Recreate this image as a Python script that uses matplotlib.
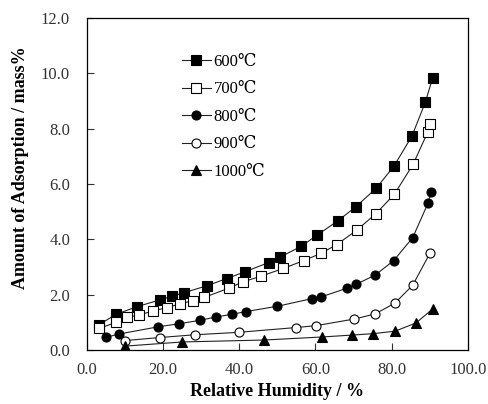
import matplotlib
matplotlib.use('Agg')
import matplotlib.pyplot as plt

# values
rh_600 = [3.1, 7.7, 13.3, 19.2, 22.3, 25.5, 31.5, 36.7, 41.4, 47.7, 50.6, 56.3, 60.5,
          65.9, 70.6, 75.9, 80.6, 85.3, 88.8, 90.7]
ads_600 = [0.90, 1.29, 1.57, 1.81, 1.94, 2.07, 2.32, 2.58, 2.82, 3.16, 3.35, 3.75, 4.16,
           4.67, 5.18, 5.84, 6.65, 7.73, 8.95, 9.82]

rh_700 = [3.3, 7.7, 10.5, 13.7, 17.3, 21.0, 24.5, 27.8, 30.8, 37.2, 41.1, 45.8, 51.6,
          56.9, 61.4, 65.6, 70.9, 75.8, 80.7, 85.6, 89.5, 90.1]
ads_700 = [0.78, 1.00, 1.18, 1.26, 1.41, 1.53, 1.67, 1.78, 1.90, 2.23, 2.47, 2.67, 2.95,
           3.23, 3.49, 3.81, 4.34, 4.92, 5.63, 6.71, 7.89, 8.17]

rh_800 = [5.1, 8.6, 18.8, 24.3, 29.6, 33.8, 38.1, 41.8, 50.0, 59.2, 61.5, 68.2, 70.6,
          75.7, 80.5, 85.5, 89.5, 90.3]
ads_800 = [0.46, 0.58, 0.84, 0.95, 1.07, 1.19, 1.29, 1.39, 1.58, 1.86, 1.92, 2.23, 2.37,
           2.71, 3.23, 4.06, 5.30, 5.70]

rh_900 = [10.1, 19.1, 28.4, 40.0, 54.8, 60.2, 70.2, 75.6, 80.8, 85.5, 90.0]
ads_900 = [0.34, 0.45, 0.55, 0.64, 0.81, 0.88, 1.12, 1.30, 1.69, 2.34, 3.49]

rh_1000 = [10.1, 25.1, 46.5, 61.7, 69.7, 75.1, 80.9, 86.4, 90.8]
ads_1000 = [0.14, 0.29, 0.36, 0.47, 0.54, 0.59, 0.68, 0.98, 1.49]

x_ticks = [0, 20, 40, 60, 80, 100]
y_ticks = [0, 2, 4, 6, 8, 10, 12]

serif = ['Liberation Serif', 'DejaVu Serif']
plt.rcParams['font.family'] = serif

fig = plt.figure(figsize=(4.89, 4.04), dpi=100)
ax = fig.add_axes([0.1773, 0.1337, 0.7797, 0.8217])

series = [
    (rh_600, ads_600, 's', 'black', '600℃'),
    (rh_700, ads_700, 's', 'white', '700℃'),
    (rh_800, ads_800, 'o', 'black', '800℃'),
    (rh_900, ads_900, 'o', 'white', '900℃'),
    (rh_1000, ads_1000, '^', 'black', '1000℃'),
]
for x, y, m, fc, lab in series:
    ax.plot(x, y, color='#222222', lw=0.8, marker=m, ms=6.5 if m != '^' else 7,
            mfc=fc, mec='black', mew=0.8, label=lab)

ax.set_xlim(0, 100)
ax.set_ylim(0, 12)
ax.set_xticks(x_ticks)
ax.set_yticks(y_ticks)
ax.set_xticklabels([f'{v:.1f}' for v in x_ticks])
ax.set_yticklabels([f'{v:.1f}' for v in y_ticks])
ax.tick_params(direction='in', length=5, width=0.8, labelsize=12, colors='#333333')
ax.tick_params(axis='y', pad=12)
ax.tick_params(axis='x', pad=9)
for sp in ax.spines.values():
    sp.set_linewidth(0.9)

ax.set_xlabel('Relative Humidity / %', fontsize=13, fontweight='bold', labelpad=3)
ax.set_ylabel('Amount of Adsorption / mass%', fontsize=13, fontweight='bold')
ax.yaxis.set_label_coords(-0.151, 0.548)

ax.legend(loc='upper left', bbox_to_anchor=(0.232, 0.912), frameon=False,
          handlelength=1.75, handletextpad=0.15, labelspacing=0.69, borderaxespad=0,
          prop={'family': serif, 'size': 12})

fig.savefig('out.png', dpi=100)
